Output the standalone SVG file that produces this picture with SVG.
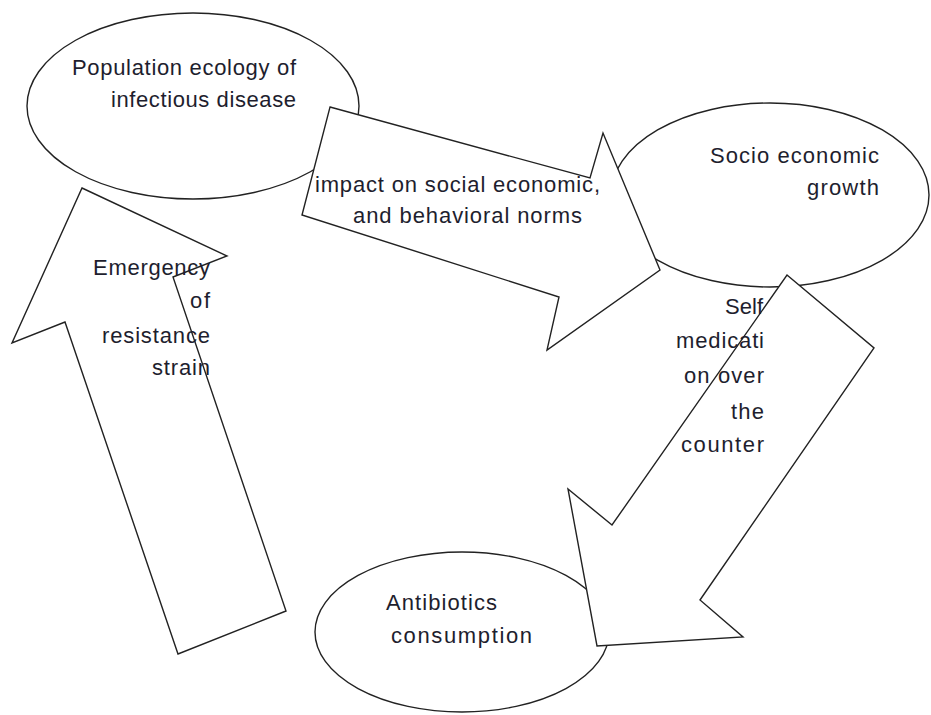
<svg xmlns="http://www.w3.org/2000/svg" width="931" height="715" viewBox="0 0 931 715">
<style>
.shape{fill:#fff;stroke:#222;stroke-width:1.4;stroke-linejoin:miter}
.lbl{font-family:"Liberation Sans",Arial,sans-serif;font-size:22px;fill:#1e1e2e}
</style>
<rect width="931" height="715" fill="#fff"/>
<g id="node-population">
<ellipse class="shape" cx="193" cy="106" rx="166" ry="93"/>
</g>
<g id="node-socio">
<ellipse class="shape" cx="770" cy="195" rx="159" ry="92"/>
</g>
<g id="node-antibiotics">
<ellipse class="shape" cx="462" cy="632" rx="147" ry="80"/>
</g>
<g id="connectors">
<polygon id="arrow-impact" class="shape" points="330,107 590,178 603,133 660,270 547,350 559,297 302,215"/>
<polygon id="arrow-emergency" class="shape" points="82,188 227,256 173,277 286,611 178,654 65,322 12,343"/>
<polygon id="arrow-self" class="shape" points="787,275 874,348 700,600 743,637 597,646 568,489 612,525"/>
</g>
<g id="labels">
<text class="lbl" x="72" y="75" textLength="224">Population ecology of</text>
<text class="lbl" x="111" y="107" textLength="185">infectious disease</text>
<text class="lbl" x="315" y="192" textLength="285">impact on social economic,</text>
<text class="lbl" x="353" y="223" textLength="229">and behavioral norms</text>
<text class="lbl" x="710" y="163" textLength="169">Socio economic</text>
<text class="lbl" x="807" y="195" textLength="72">growth</text>
<text class="lbl" x="93" y="275" textLength="117">Emergency</text>
<text class="lbl" x="190" y="308" textLength="20">of</text>
<text class="lbl" x="102" y="343" textLength="108">resistance</text>
<text class="lbl" x="152" y="375" textLength="58">strain</text>
<text class="lbl" x="725" y="314" textLength="38">Self</text>
<text class="lbl" x="676" y="348" textLength="88">medicati</text>
<text class="lbl" x="684" y="383" textLength="80">on over</text>
<text class="lbl" x="731" y="419" textLength="33">the</text>
<text class="lbl" x="681" y="452" textLength="83">counter</text>
<text class="lbl" x="386" y="610" textLength="111">Antibiotics</text>
<text class="lbl" x="391" y="643" textLength="141">consumption</text>
</g>
</svg>
